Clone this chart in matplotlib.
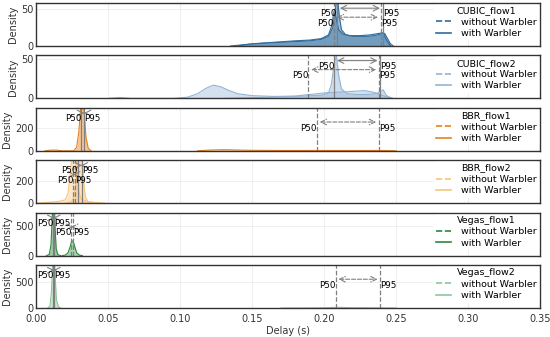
import numpy as np
import matplotlib
matplotlib.use('Agg')
import matplotlib.pyplot as plt

# flows shown, one panel each
flows = ['CUBIC_flow1', 'CUBIC_flow2', 'BBR_flow1', 'BBR_flow2', 'Vegas_flow1', 'Vegas_flow2']
colors = ['#2f6c9e', '#93b4d6', '#e8821e', '#f8c47f', '#2a8a3e', '#8cc79a']
ylims = [58, 55, 374, 390, 730, 815]
yticks = [[0, 50], [0, 50], [0, 200], [0, 200], [0, 500], [0, 500]]

# density curves: (delay, density)
cubic1_with_x = [0.135, 0.145, 0.16, 0.17, 0.18, 0.19, 0.198, 0.203, 0.206, 0.2075, 0.209, 0.2105, 0.212, 0.215,
                 0.22, 0.225, 0.23, 0.235, 0.239, 0.242, 0.244, 0.246, 0.248]
cubic1_with_y = [0, 2, 4, 5, 6, 7, 9, 13, 25, 45, 70, 40, 22, 15, 13, 13, 13, 14, 16, 17, 10, 3, 0]
cubic1_wo_x = [0.14, 0.15, 0.165, 0.18, 0.19, 0.198, 0.203, 0.205, 0.207, 0.2085, 0.21, 0.213, 0.218, 0.225,
               0.232, 0.238, 0.241, 0.243, 0.246]
cubic1_wo_y = [0, 3, 5, 7, 8, 10, 15, 26, 48, 36, 22, 16, 14, 14, 15, 17, 18, 9, 0]

cubic2_wo_x = [0.05, 0.058, 0.066, 0.095, 0.105, 0.112, 0.118, 0.123, 0.128, 0.134, 0.14, 0.15, 0.165, 0.18,
               0.19, 0.2, 0.21, 0.22, 0.228, 0.234, 0.239, 0.243, 0.248]
cubic2_wo_y = [0, 1.2, 0, 0, 1.5, 6, 13, 17, 15, 10, 6, 3.5, 2.5, 3, 5, 7, 8, 9, 10, 8, 5, 2, 0]
cubic2_with_x = [0.13, 0.15, 0.17, 0.185, 0.198, 0.203, 0.205, 0.207, 0.2085, 0.21, 0.212, 0.216, 0.222,
                 0.23, 0.236, 0.239, 0.241, 0.243, 0.247]
cubic2_with_y = [0, 1, 2, 3, 4, 7, 18, 45, 55, 30, 12, 6, 5, 5, 6, 9, 11, 4, 0]

bbr1_with_x = [0.006, 0.01, 0.014, 0.018, 0.026, 0.028, 0.0295, 0.031, 0.032, 0.033, 0.0345, 0.036, 0.038]
bbr1_with_y = [0, 6, 6, 0, 0, 30, 160, 400, 470, 380, 120, 25, 0]
bbr1_wo_x = [0.112, 0.12, 0.13, 0.14, 0.15, 0.17, 0.19, 0.21, 0.23, 0.24, 0.245, 0.25]
bbr1_wo_y = [0, 6, 10, 7, 4, 3, 3, 3, 3, 3, 2, 0]

bbr2_wo_x = [0.0, 0.008, 0.015, 0.02, 0.022, 0.0235, 0.025, 0.026, 0.027, 0.028, 0.0295, 0.031, 0.035,
             0.042, 0.048]
bbr2_wo_y = [0, 8, 15, 30, 90, 260, 470, 520, 480, 300, 110, 40, 15, 6, 0]
bbr2_with_x = [0.02, 0.024, 0.026, 0.0275, 0.029, 0.0303, 0.0315, 0.0325, 0.034, 0.036, 0.04]
bbr2_with_y = [0, 10, 50, 180, 400, 520, 460, 250, 60, 10, 0]

veg1_with_x = [0.007, 0.009, 0.0102, 0.011, 0.0118, 0.0124, 0.013, 0.0138, 0.015, 0.017]
veg1_with_y = [0, 20, 180, 600, 950, 900, 500, 120, 15, 0]
veg1_wo_x = [0.018, 0.02, 0.022, 0.0235, 0.0245, 0.0255, 0.0265, 0.028, 0.03, 0.032]
veg1_wo_y = [0, 8, 45, 150, 240, 250, 170, 50, 8, 0]

veg2_with_x = [0.008, 0.0095, 0.0105, 0.0113, 0.0119, 0.0125, 0.0131, 0.014, 0.0155, 0.017]
veg2_with_y = [0, 40, 300, 800, 1000, 950, 600, 150, 20, 0]
veg2_wo_x = [0.17, 0.19, 0.2, 0.205, 0.209, 0.213, 0.22, 0.23, 0.24, 0.245, 0.25]
veg2_wo_y = [0, 2, 5, 10, 14, 10, 6, 4, 3, 1, 0]

curves = [
    ((cubic1_wo_x, cubic1_wo_y), (cubic1_with_x, cubic1_with_y)),
    ((cubic2_wo_x, cubic2_wo_y), (cubic2_with_x, cubic2_with_y)),
    ((bbr1_wo_x, bbr1_wo_y), (bbr1_with_x, bbr1_with_y)),
    ((bbr2_wo_x, bbr2_wo_y), (bbr2_with_x, bbr2_with_y)),
    ((veg1_wo_x, veg1_wo_y), (veg1_with_x, veg1_with_y)),
    ((veg2_wo_x, veg2_wo_y), (veg2_with_x, veg2_with_y)),
]

# percentiles (P50, P95): without Warbler, with Warbler
p_without = [(0.2068, 0.2393), (0.189, 0.238), (0.195, 0.238), (0.0256, 0.0270), (0.0242, 0.0256), (0.208, 0.239)]
p_with = [(0.2089, 0.2407), (0.207, 0.239), (0.0312, 0.0332), (0.0290, 0.0318), (0.0118, 0.0125), (0.0118, 0.0125)]

plt.rcParams['font.family'] = ['DejaVu Sans']
fig, axes = plt.subplots(6, 1, figsize=(5.5, 3.37), dpi=100, sharex=True)
fig.subplots_adjust(left=0.066, right=0.982, top=0.991, bottom=0.086, hspace=0.22)

for i, ax in enumerate(axes):
    c = colors[i]
    (wx, wy), (hx, hy) = curves[i]
    ax.fill_between(wx, wy, color=c, alpha=0.4, lw=0)
    ax.plot(wx, wy, color=c, lw=0.8)
    ax.fill_between(hx, hy, color=c, alpha=0.45, lw=0)
    ax.plot(hx, hy, color=c, lw=0.8)
    ax.plot([], [], color=c, ls='--', lw=1.2, label='without Warbler')
    ax.plot([], [], color=c, ls='-', lw=1.2, label='with Warbler')

    top = ylims[i]
    for (p50, p95), ls, ya, yt in [(p_without[i], '--', 0.67, 0.53), (p_with[i], '-', 0.88, 0.75)]:
        ax.axvline(p50, color='grey', ls=ls, lw=0.9)
        ax.axvline(p95, color='grey', ls=ls, lw=0.9)
        ax.annotate('', xy=(p95, ya * top), xytext=(p50, ya * top),
                    arrowprops=dict(arrowstyle='<->', color='grey', ls=ls, lw=0.8))
        ax.text(p50, yt * top, 'P50', ha='right', va='center', fontsize=6.3)
        ax.text(p95, yt * top, 'P95', ha='left', va='center', fontsize=6.3)

    ax.set_xlim(0, 0.35)
    ax.set_ylim(0, top)
    ax.set_yticks(yticks[i])
    ax.set_ylabel('Density', fontsize=7, color='#333333', labelpad=2)
    ax.grid(True, color='#ececec', lw=0.6)
    ax.set_axisbelow(True)
    for s in ax.spines.values():
        s.set_color('#333333')
        s.set_linewidth(1.0)
    ax.tick_params(labelsize=7, colors='#333333', length=0, pad=2)
    leg = ax.legend(title=flows[i], loc='upper right', fontsize=6.8, title_fontsize=6.8,
                    frameon=True, facecolor='white', edgecolor='white', framealpha=1,
                    labelspacing=0.25, borderpad=0.15, handlelength=1.6, handletextpad=1.1,
                    borderaxespad=0.2)

axes[-1].set_xticks([0.0, 0.05, 0.10, 0.15, 0.20, 0.25, 0.30, 0.35])
axes[-1].set_xticklabels(['0.00', '0.05', '0.10', '0.15', '0.20', '0.25', '0.30', '0.35'])
axes[-1].tick_params(axis='x', pad=4)
axes[-1].set_xlabel('Delay (s)', fontsize=7, color='#333333', labelpad=2)

fig.savefig('out.png', dpi=100)
